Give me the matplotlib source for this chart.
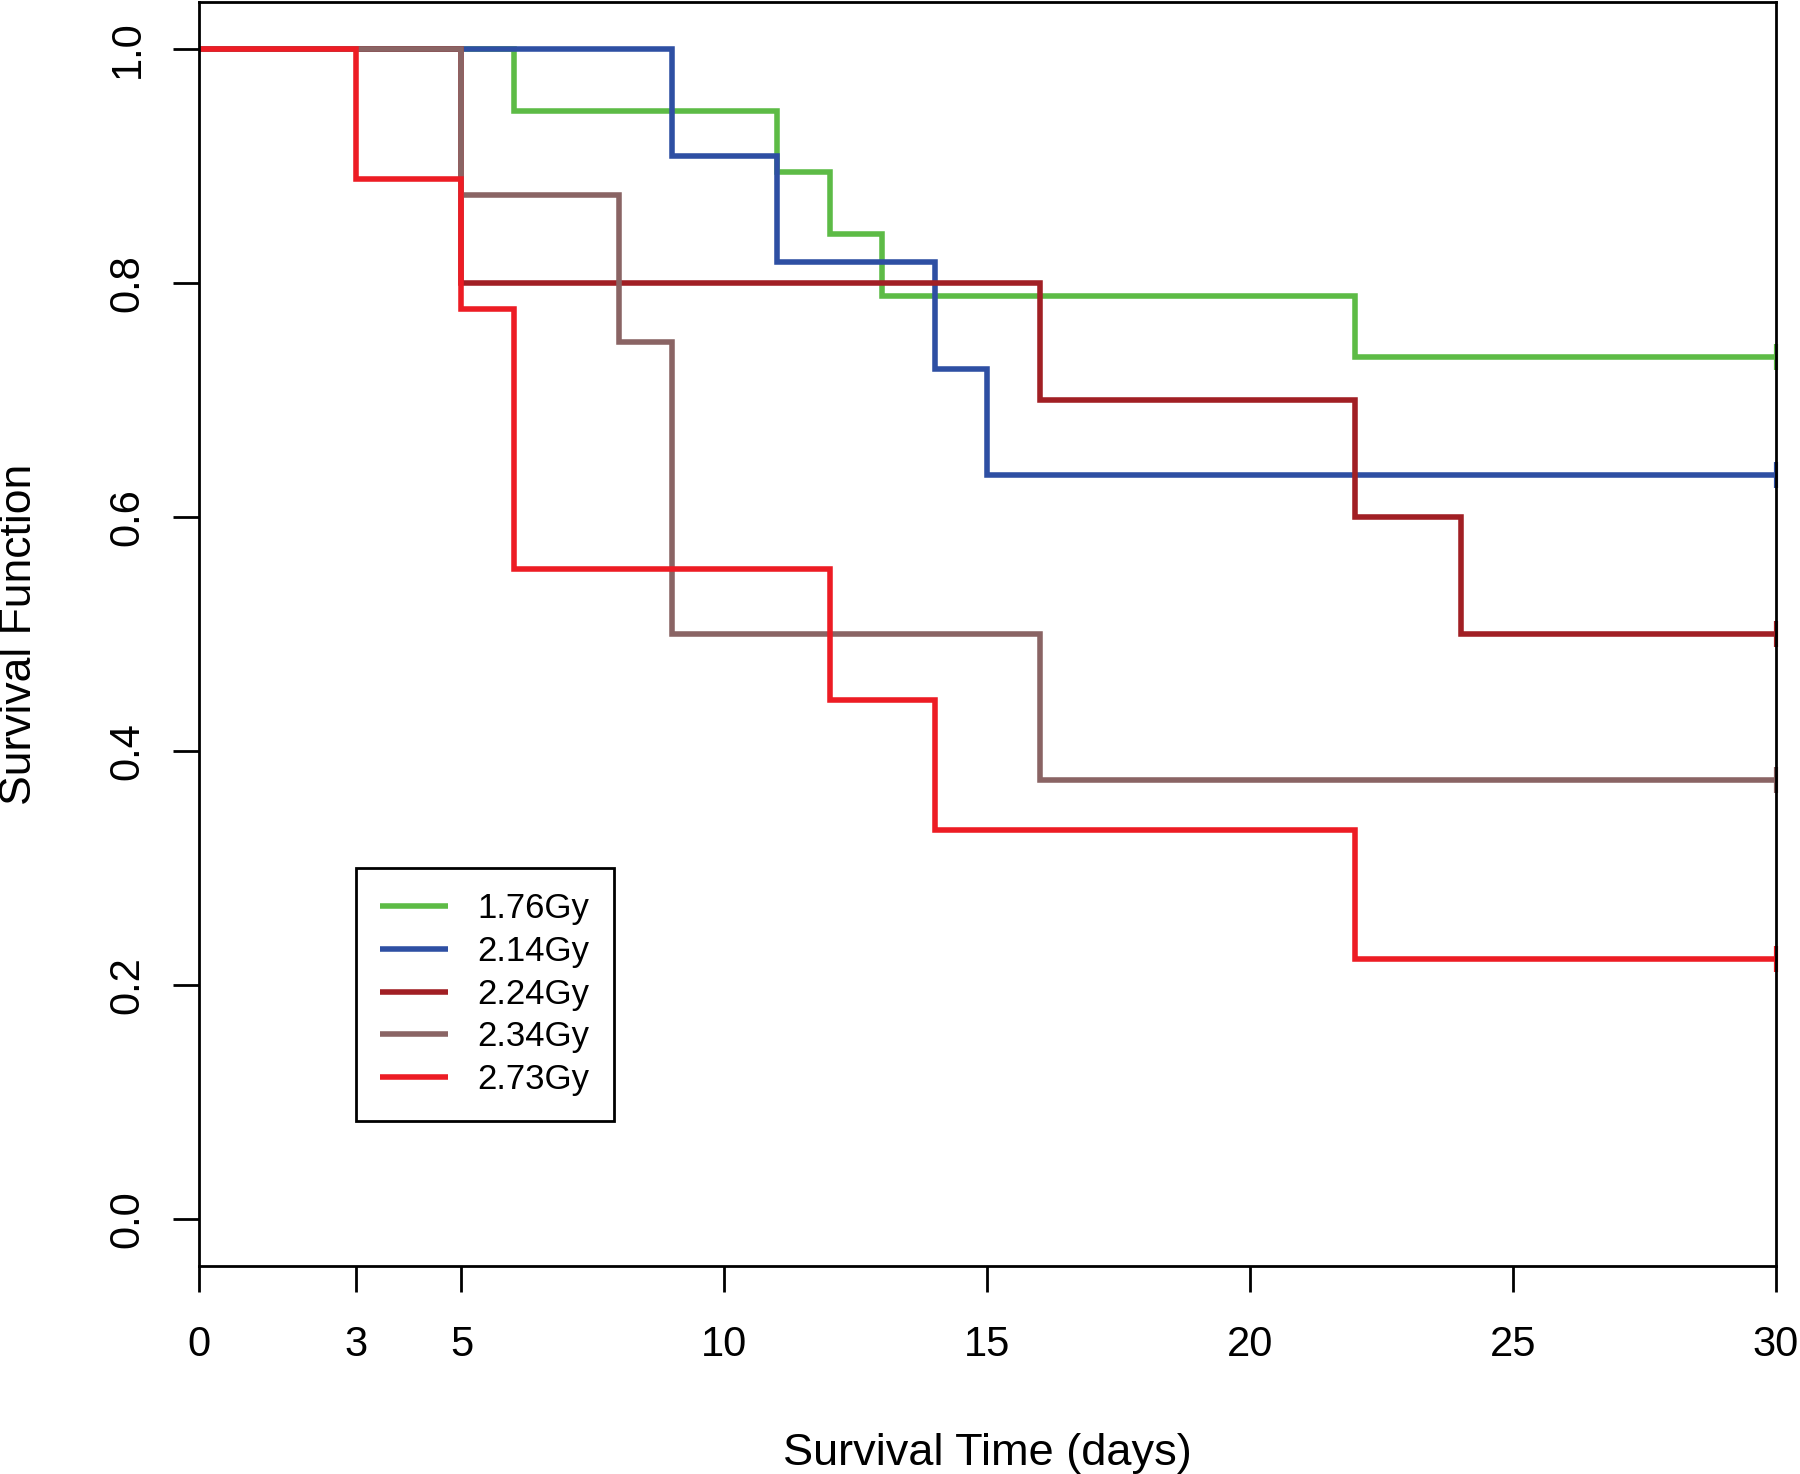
import matplotlib
matplotlib.use("Agg")
import matplotlib.pyplot as plt

plt.rcParams['font.family'] = ['Liberation Sans', 'DejaVu Sans']

# KAPLAN-MEIER CURVES #
groups = ["1.76Gy", "2.14Gy", "2.24Gy", "2.34Gy", "2.73Gy"]
times_176 = [0, 6, 11, 12, 13, 22, 30]
surv_176 = [1.0, 0.947, 0.895, 0.842, 0.789, 0.737, 0.737]
times_214 = [0, 9, 11, 14, 15, 30]
surv_214 = [1.0, 0.909, 0.818, 0.727, 0.636, 0.636]
times_224 = [0, 5, 16, 22, 24, 30]
surv_224 = [1.0, 0.8, 0.7, 0.6, 0.5, 0.5]
times_234 = [0, 5, 8, 9, 16, 30]
surv_234 = [1.0, 0.875, 0.75, 0.5, 0.375, 0.375]
times_273 = [0, 3, 5, 6, 12, 14, 22, 30]
surv_273 = [1.0, 0.889, 0.778, 0.556, 0.444, 0.333, 0.222, 0.222]

times = {"1.76Gy": times_176, "2.14Gy": times_214, "2.24Gy": times_224, "2.34Gy": times_234, "2.73Gy": times_273}
survs = {"1.76Gy": surv_176, "2.14Gy": surv_214, "2.24Gy": surv_224, "2.34Gy": surv_234, "2.73Gy": surv_273}
colors = {"1.76Gy": "#5DBB46", "2.14Gy": "#2E4FA3", "2.24Gy": "#A11F24", "2.34Gy": "#8A6464", "2.73Gy": "#ED1C24"}

xticks = [0, 3, 5, 10, 15, 20, 25, 30]
yticks = [0.0, 0.2, 0.4, 0.6, 0.8, 1.0]

# PLOT #
fig = plt.figure(figsize=(18, 14.74), dpi=100)
ax = fig.add_axes([0.1103, 0.1411, 0.8764, 0.8573])

for g in groups:
    ax.step(times[g], survs[g], where='post', color=colors[g], lw=4.0, label=g,
            solid_joinstyle='miter', solid_capstyle='butt')
    # censor mark at end of follow-up
    ax.plot([times[g][-1]], [survs[g][-1]], marker='|', ms=19, mew=3,
            color=colors[g], clip_on=False, zorder=1.5)

ax.set_xlim(0, 30)
ax.set_ylim(-0.04, 1.04)
ax.set_xticks(xticks)
ax.set_xticklabels([str(t) for t in xticks])
ax.set_yticks(yticks)
ax.set_yticklabels([f"{t:.1f}" for t in yticks], rotation=90, va='center')

for sp in ax.spines.values():
    sp.set_linewidth(2)
    sp.set_zorder(3)
ax.tick_params(direction='out', length=18.7, width=2, labelsize=30)
ax.tick_params(axis='x', pad=24)
ax.tick_params(axis='y', pad=18)

ax.set_xlabel("Survival Time (days)", fontsize=32.5)
ax.set_ylabel("Survival Function", fontsize=32)
ax.xaxis.set_label_coords(0.5, -0.148)
ax.xaxis.label.set_va('center')
ax.yaxis.set_label_coords(-0.1132, 0.5)
ax.yaxis.label.set_va('center')

leg = ax.legend(loc='upper left', bbox_to_anchor=(356 / 1800, 1 - 868 / 1474),
                bbox_transform=fig.transFigure, borderaxespad=0, fancybox=False,
                edgecolor='black', framealpha=1, fontsize=25, borderpad=0.7,
                handlelength=1.96, handletextpad=0.84, labelspacing=0.28)
leg.get_frame().set_linewidth(2)

fig.savefig("out.png", dpi=100, facecolor='white')
